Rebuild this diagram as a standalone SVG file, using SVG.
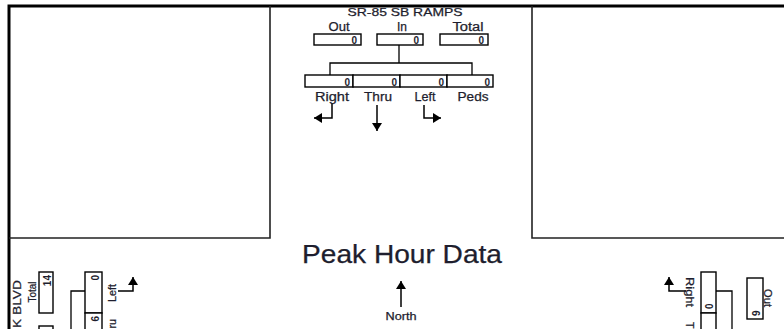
<svg xmlns="http://www.w3.org/2000/svg" width="784" height="329" viewBox="0 0 784 329">
<style>
.t{font-family:"Liberation Sans",Arial,sans-serif;fill:#1e1e2e;stroke:#1e1e2e;stroke-width:0.25}
.lab{font-size:12px}
.val{font-size:10px;font-weight:bold;stroke-width:0}
.box{fill:#fff;stroke:#000;stroke-width:1.4}
.ln{fill:none;stroke:#000;stroke-width:1.3}
.blk{fill:none;stroke:#222;stroke-width:1.6}
.arr{fill:none;stroke:#000;stroke-width:1.5;marker-end:url(#ah)}
</style>
<defs>
<marker id="ah" markerUnits="userSpaceOnUse" markerWidth="12" markerHeight="12" refX="8" refY="5" orient="auto">
<path d="M0,0 L8,5 L0,10 z" fill="#000"/>
</marker>
</defs>
<rect width="784" height="329" fill="#fff"/>
<g id="frame">
<path d="M9,329 V6 H784" fill="none" stroke="#000" stroke-width="3"/>
<path class="blk" d="M9,238 H270 V6"/>
<path class="blk" d="M784,238 H532 V6"/>
</g>
<g id="title">
<text class="t" x="402" y="263" font-size="25" text-anchor="middle" textLength="200" lengthAdjust="spacingAndGlyphs" stroke-width="0.1">Peak Hour Data</text>
</g>
<g id="north">
<text class="t" x="401" y="320" font-size="10" text-anchor="middle" textLength="31" lengthAdjust="spacingAndGlyphs">North</text>
</g>
<g id="connectors">
<path class="ln" d="M399,45 V63 M330,75 V63 H472 V75"/>
<path class="arr" d="M332,103 V118 H314"/>
<path class="arr" d="M377,105 V131"/>
<path class="arr" d="M424,105 V118 H441"/>
<path class="arr" d="M401,307 V281"/>
<path class="ln" d="M85,291 H71 V329"/>
<path class="arr" d="M118,291 H133 V277"/>
<path class="ln" d="M716,291 H732 V329"/>
<path class="arr" d="M686,291 H669 V277"/>
</g>
<g id="north-approach">
<text class="t" x="405" y="16" font-size="11" text-anchor="middle" textLength="115" lengthAdjust="spacingAndGlyphs">SR-85 SB RAMPS</text>
<text class="t lab" x="339" y="31" text-anchor="middle" textLength="21" lengthAdjust="spacingAndGlyphs">Out</text>
<text class="t lab" x="402" y="31" text-anchor="middle" textLength="10" lengthAdjust="spacingAndGlyphs">In</text>
<text class="t lab" x="468" y="31" text-anchor="middle" textLength="31" lengthAdjust="spacingAndGlyphs">Total</text>
<rect class="box" x="314" y="34" width="47" height="11"/>
<rect class="box" x="377" y="34" width="46" height="11"/>
<rect class="box" x="440" y="34" width="48" height="11"/>
<text class="t val" x="357" y="44" text-anchor="end">0</text>
<text class="t val" x="419" y="44" text-anchor="end">0</text>
<text class="t val" x="484" y="44" text-anchor="end">0</text>
<rect class="box" x="305" y="75" width="48" height="12"/>
<rect class="box" x="353" y="75" width="47" height="12"/>
<rect class="box" x="400" y="75" width="47" height="12"/>
<rect class="box" x="447" y="75" width="46" height="12"/>
<text class="t val" x="350" y="86" text-anchor="end">0</text>
<text class="t val" x="397" y="86" text-anchor="end">0</text>
<text class="t val" x="444" y="86" text-anchor="end">0</text>
<text class="t val" x="490" y="86" text-anchor="end">0</text>
<text class="t lab" x="332" y="101" text-anchor="middle" textLength="34" lengthAdjust="spacingAndGlyphs">Right</text>
<text class="t lab" x="378" y="101" text-anchor="middle" textLength="28" lengthAdjust="spacingAndGlyphs">Thru</text>
<text class="t lab" x="425" y="101" text-anchor="middle" textLength="21" lengthAdjust="spacingAndGlyphs">Left</text>
<text class="t lab" x="473" y="101" text-anchor="middle" textLength="31" lengthAdjust="spacingAndGlyphs">Peds</text>
</g>
<g id="west-approach">
<text class="t" font-size="11" transform="translate(21,280) rotate(-90)" text-anchor="end" textLength="48" lengthAdjust="spacingAndGlyphs">K BLVD</text>
<text class="t" font-size="10" transform="translate(36,292) rotate(-90)" text-anchor="middle" textLength="21" lengthAdjust="spacingAndGlyphs">Total</text>
<rect class="box" x="39" y="272" width="14" height="41"/>
<text class="t val" transform="translate(50.5,275) rotate(-90)" text-anchor="end">14</text>
<rect class="box" x="39" y="326" width="14" height="41"/>
<rect class="box" x="85" y="272" width="17" height="41"/>
<rect class="box" x="85" y="313" width="17" height="41"/>
<text class="t val" transform="translate(98.5,275) rotate(-90)" text-anchor="end">0</text>
<text class="t val" transform="translate(98.5,316) rotate(-90)" text-anchor="end">6</text>
<text class="t" font-size="10" transform="translate(116,293) rotate(-90)" text-anchor="middle" textLength="18" lengthAdjust="spacingAndGlyphs">Left</text>
<text class="t" font-size="10" transform="translate(116,319) rotate(-90)" text-anchor="end" textLength="22" lengthAdjust="spacingAndGlyphs">Thru</text>
</g>
<g id="east-approach">
<rect class="box" x="701" y="272" width="15" height="41"/>
<rect class="box" x="701" y="313" width="15" height="41"/>
<text class="t val" transform="translate(704.5,309) rotate(90)" text-anchor="end">0</text>
<text class="t" font-size="10" transform="translate(686,292) rotate(90)" text-anchor="middle" textLength="30" lengthAdjust="spacingAndGlyphs">Right</text>
<text class="t" font-size="10" transform="translate(686,322) rotate(90)" text-anchor="start" textLength="22" lengthAdjust="spacingAndGlyphs">Thru</text>
<rect class="box" x="747" y="278" width="16" height="41"/>
<text class="t val" transform="translate(751.5,316) rotate(90)" text-anchor="end">6</text>
<text class="t" font-size="10" transform="translate(764,298) rotate(90)" text-anchor="middle" textLength="18" lengthAdjust="spacingAndGlyphs">Out</text>
</g>
</svg>
